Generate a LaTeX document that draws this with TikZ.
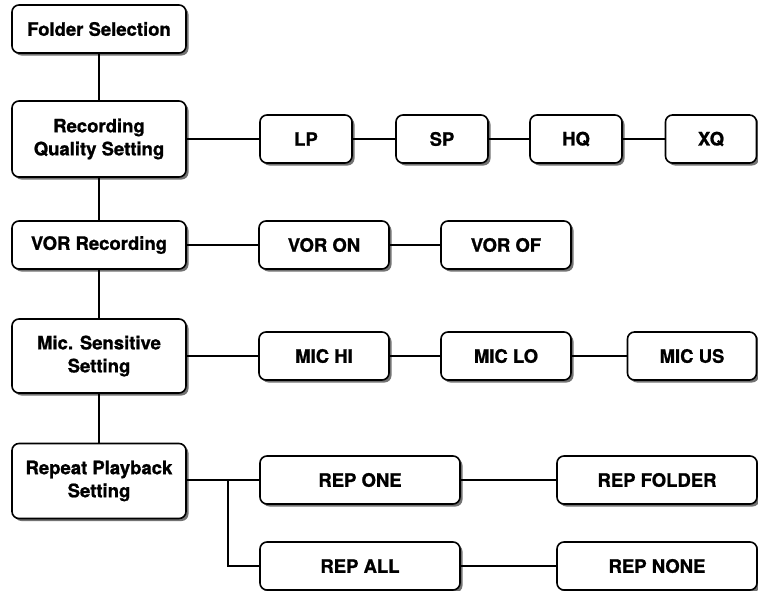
\documentclass[tikz,border=0pt]{standalone}
\usepackage{fontspec}
\setmainfont{TeX Gyre Heros}[BoldFeatures={FakeBold=1}]
\usetikzlibrary{shadows}
\tikzset{
  menubox/.style={draw, line width=1.6pt, rounded corners=7pt, fill=white,
    drop shadow={shadow xshift=2.5pt, shadow yshift=-2.5pt, fill=black!55, opacity=1},
    align=center, inner sep=0pt, font=\fontsize{18.5}{23}\selectfont\bfseries},
  link/.style={line width=1.4pt}
}
\begin{document}
\begin{tikzpicture}[x=1pt, y=-1pt]
\useasboundingbox (0,0) rectangle (758,590);
% main menu column
\foreach \n/\t/\y/\h in {fold/Folder Selection/29/48, qual/Recording\\Quality Setting/139/76, vor/VOR Recording/245/48, mic/Mic. Sensitive\\Setting/356/74, rep/Repeat Playback\\Setting/481/75}
\node[menubox, minimum width=174pt, minimum height=\h pt] (\n) at (99,\y) {\t};
% sub items
\foreach \n/\t/\x/\y/\w in {lp/LP/306/139/92, sp/SP/442/139/92, hq/HQ/576/139/92, xq/XQ/711/139/91, von/VOR ON/324/245/130, vof/VOR OF/506/245/130, mhi/MIC HI/324/356/130, mlo/MIC LO/506/356/130, mus/MIC US/692/356/129, rone/REP ONE/360/480/200, rfol/REP FOLDER/657/480/200, rall/REP ALL/360/566/200, rnone/REP NONE/657/566/200}
\node[menubox, minimum width=\w pt, minimum height=48pt] (\n) at (\x,\y) {\t};
\begin{scope}[on background layer/.try]
\foreach \a/\b in {fold/qual, qual/vor, vor/mic, mic/rep}
\draw[link] (\a) -- (\b);
\foreach \a/\b in {qual/lp, lp/sp, sp/hq, hq/xq, vor/von, von/vof, mic/mhi, mhi/mlo, mlo/mus, rone/rfol, rall/rnone}
\draw[link] (\a.east |- \b.west) -- (\b.west);
\draw[link] (rep.east |- rone.west) -- (rone.west);
\coordinate (fork) at (228,480);
\draw[link] (fork) |- (rall.west);
\end{scope}
\end{tikzpicture}
\end{document}
